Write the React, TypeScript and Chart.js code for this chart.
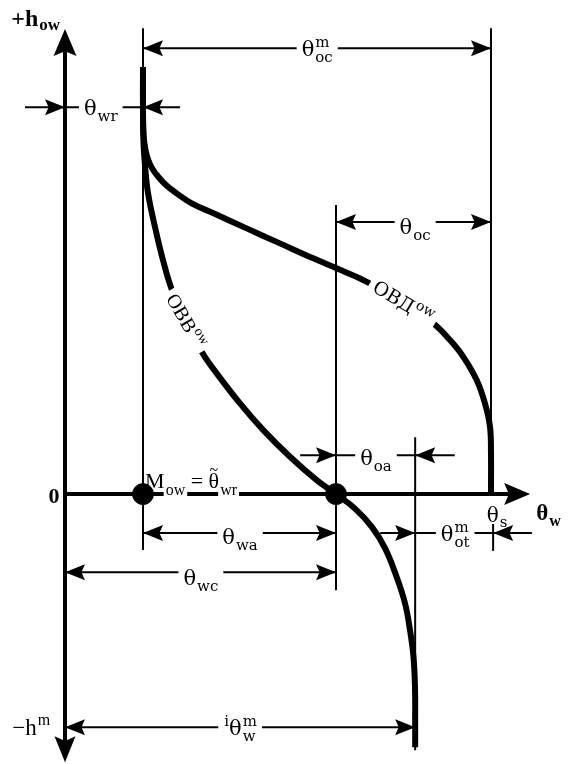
import React, { useEffect, useRef } from "react";
import { Chart, registerables } from "chart.js";

Chart.register(...registerables);

// ---------- scale ranges (θ as % of θs, h as % of h at curve top) ----------
const X_RANGE = [-15.26, 118.08];
const Y_RANGE = [-63.2, 115.7];

// axis extents
const AXIS_H_TOP = 108.9;
const AXIS_H_BOTTOM = -62.8;
const AXIS_THETA_END = 109.2;

// ---------- drying curve ОВД^ow ----------
const dryTheta = [18.31, 18.31, 18.45, 18.9, 19.55, 20.54, 21.9, 23.83, 26.22, 29.74, 34.74, 42.65, 50.47, 58.29, 63.78, 70.02, 78.64, 86.46, 90.38, 93.5, 96.64, 98.59, 99.77, 100, 100];
const dryH = [100, 89.93, 84.07, 80.56, 78.22, 76.11, 74.31, 72.25, 70.42, 68.08, 65.81, 62.22, 58.71, 55.2, 52.86, 50.12, 45.43, 39.98, 36.07, 32.15, 26.7, 21.24, 15.76, 9.53, 0];

// ---------- wetting curve ОВВ^ow ----------
const wetTheta = [18.31, 18.31, 18.43, 18.78, 19.48, 21.13, 23.0, 25.12, 28.4, 32.09, 35.61, 41.08, 46.55, 52.82, 59.08, 63.62, 68.08, 72.07, 75.12, 77.7, 79.81, 80.99, 81.81, 82.16, 82.2, 82.2];
const wetH = [100, 89.93, 82.2, 77.05, 70.49, 62.53, 54.8, 47.78, 40.75, 33.33, 28.27, 21.24, 14.99, 8.74, 3.28, 0, -3.4, -7.73, -12.65, -18.97, -25.53, -31.85, -38.17, -45.2, -53.6, -59.25];

// ---------- marked points (θwr, θwa) ----------
const pointTheta = [18.31, 63.62];
const pointH = [0, 0];

// ---------- thin vertical guide lines ----------
const guideTheta = [18.31, 63.62, 82.2, 100, 100.5];
const guideTop = [109.1, 67.7, 13.3, 109.1, -7.0];
const guideBottom = [-13.1, -22.5, -60.0, 0, -13.3];

// ---------- dimension lines ----------
const dimH = [104.4, 90.6, 63.7, 9.1, -9.1, -9.1, -18.3, -54.6];
const dimStart = [18.31, -9.4, 63.62, 55.2, 18.31, 74.0, 0, 0];
const dimEnd = [100, 27.0, 100, 91.5, 63.62, 109.6, 63.62, 82.2];
const dimTipA = [18.31, 0, 63.62, 63.62, 18.31, 82.2, 0, 0];
const dimTipADir = ["l", "r", "l", "r", "l", "r", "l", "l"];
const dimTipB = [100, 18.31, 100, 82.2, 63.62, 100.5, 63.62, 82.2];
const dimTipBDir = ["r", "l", "r", "l", "r", "l", "r", "r"];
const dimLabelTheta = [59.2, 8.4, 82.2, 73.0, 41.1, 91.6, 31.9, 41.1];

type Part = { t?: string; sub?: string; sup?: string; tilde?: boolean };

const dimLabels: Part[][] = [
  [{ t: "θ", sup: "m", sub: "oc" }],
  [{ t: "θ", sub: "wr" }],
  [{ t: "θ", sub: "oc" }],
  [{ t: "θ", sub: "oa" }],
  [{ t: "θ", sub: "wa" }],
  [{ t: "θ", sup: "m", sub: "ot" }],
  [{ t: "θ", sub: "wc" }],
  [{ sup: "i" }, { t: "θ", sup: "m", sub: "w" }],
];
// baseline drop (px) of each dimension label below its line
const dimLabelDrop = [8, 8, 12, 10, 11, 8, 13, 8];

// ---------- other text ----------
const labelHAxis: Part[] = [{ t: "+h", sub: "ow" }];
const labelZero: Part[] = [{ t: "0" }];
const labelHMin: Part[] = [{ t: "−h", sup: "m" }];
const labelThetaAxis: Part[] = [{ t: "θ", sub: "w" }];
const labelThetaS: Part[] = [{ t: "θ", sub: "s" }];
const labelMow: Part[] = [{ t: "M", sub: "ow" }, { t: " = " }, { t: "θ", sub: "wr", tilde: true }];
const labelWet: Part[] = [{ t: "ОВВ", sup: "ow" }];
const labelDry: Part[] = [{ t: "ОВД", sup: "ow" }];

const SERIF = '"Liberation Serif", "DejaVu Serif", serif';
const MATH = '"DejaVu Serif", "Liberation Serif", serif';

interface RichOpts {
  size: number;
  subSize: number;
  family: string;
  bold?: boolean;
  bg?: boolean;
  subBg?: boolean;
  align?: "left" | "center";
  subDy?: number;
  supDy?: number;
}

function fontStr(size: number, bold: boolean | undefined, family: string) {
  return `${bold ? "bold " : ""}${size}px ${family}`;
}

function drawRich(ctx: CanvasRenderingContext2D, x: number, baseline: number, parts: Part[], o: RichOpts) {
  const ws: [number, number][] = [];
  let w = 0;
  for (const p of parts) {
    ctx.font = fontStr(o.size, o.bold, o.family);
    const bw = p.t ? ctx.measureText(p.t).width : 0;
    ctx.font = fontStr(o.subSize, o.bold, o.family);
    const sw = Math.max(p.sub ? ctx.measureText(p.sub).width : 0, p.sup ? ctx.measureText(p.sup).width : 0);
    ws.push([bw, sw]);
    w += bw + (sw > 0 ? sw + 1 : 0);
  }
  let cx = o.align === "left" ? x : x - w / 2;
  if (o.bg) {
    ctx.fillStyle = "#fff";
    ctx.fillRect(cx - 5, baseline - o.size * 0.9, w + 10, o.size * 1.35);
  }
  ctx.textAlign = "left";
  ctx.textBaseline = "alphabetic";
  const subDy = o.subDy ?? o.size * 0.27;
  const supDy = o.supDy ?? o.size * 0.42;
  parts.forEach((p, i) => {
    const [bw, sw] = ws[i];
    if (p.t) {
      ctx.fillStyle = "#000";
      ctx.font = fontStr(o.size, o.bold, o.family);
      ctx.fillText(p.t, cx, baseline);
      if (p.tilde) {
        ctx.font = fontStr(o.subSize, o.bold, o.family);
        const tw = ctx.measureText("~").width;
        ctx.fillText("~", cx + bw / 2 - tw / 2, baseline - o.size * 0.82 + o.subSize * 0.32);
      }
    }
    cx += bw;
    if (sw > 0) {
      cx += 1;
      ctx.font = fontStr(o.subSize, o.bold, o.family);
      if (p.sub) {
        const sy = baseline + subDy;
        if (o.subBg) {
          ctx.fillStyle = "#fff";
          ctx.fillRect(cx - 2, sy - o.subSize * 0.6, sw + 4, o.subSize * 0.75);
        }
        ctx.fillStyle = "#000";
        ctx.fillText(p.sub, cx, sy);
      }
      if (p.sup) {
        ctx.fillStyle = "#000";
        ctx.fillText(p.sup, cx, baseline - supDy);
      }
      cx += sw;
    }
  });
}

function arrowHead(ctx: CanvasRenderingContext2D, x: number, y: number, dir: string, len: number, wid: number) {
  const [dx, dy] = dir === "r" ? [1, 0] : dir === "l" ? [-1, 0] : dir === "u" ? [0, -1] : [0, 1];
  const bx = x - dx * len;
  const by = y - dy * len;
  const nx = -dy;
  const ny = dx;
  ctx.fillStyle = "#000";
  ctx.beginPath();
  ctx.moveTo(x, y);
  ctx.lineTo(bx + (nx * wid) / 2, by + (ny * wid) / 2);
  ctx.lineTo(x - dx * len * 0.82, y - dy * len * 0.82);
  ctx.lineTo(bx - (nx * wid) / 2, by - (ny * wid) / 2);
  ctx.closePath();
  ctx.fill();
}

const annotations = {
  id: "annotations",
  afterDatasetsDraw(chart: any) {
    const ctx: CanvasRenderingContext2D = chart.ctx;
    const xs = chart.scales.x;
    const ys = chart.scales.y;
    const px = (v: number) => xs.getPixelForValue(v);
    const py = (v: number) => ys.getPixelForValue(v);
    ctx.save();

    // axis arrows
    arrowHead(ctx, px(0), py(AXIS_H_TOP), "u", 27, 23);
    arrowHead(ctx, px(0), py(AXIS_H_BOTTOM), "d", 26, 21);
    arrowHead(ctx, px(AXIS_THETA_END), py(0), "r", 26, 22);

    // dimension arrows + labels
    const mathOpts: RichOpts = { size: 21, subSize: 15, family: MATH, bg: true };
    dimH.forEach((h, i) => {
      arrowHead(ctx, px(dimTipA[i]), py(h), dimTipADir[i], 20, 16);
      arrowHead(ctx, px(dimTipB[i]), py(h), dimTipBDir[i], 20, 16);
      drawRich(ctx, px(dimLabelTheta[i]), py(h) + dimLabelDrop[i], dimLabels[i], mathOpts);
    });

    // axis labels
    drawRich(ctx, px(-12.6), py(109.6), labelHAxis, { size: 24, subSize: 17, family: SERIF, bold: true, align: "left", subDy: 4 });
    drawRich(ctx, px(-2.6), py(0) + 9, labelZero, { size: 22, subSize: 15, family: SERIF, bold: true });
    drawRich(ctx, px(-12.4), py(-56.4), labelHMin, { size: 23, subSize: 16, family: SERIF, align: "left" });
    drawRich(ctx, px(110.6), py(-6.1), labelThetaAxis, { size: 23, subSize: 16, family: SERIF, bold: true, align: "left", subDy: 6 });
    drawRich(ctx, px(99.0), py(-6.6), labelThetaS, { size: 20, subSize: 15, family: MATH, align: "left", subDy: 5 });
    drawRich(ctx, px(18.8), py(1.4), labelMow, { size: 22, subSize: 16, family: SERIF, align: "left", subBg: true, subDy: 7 });

    // curve labels (rotated along the curves)
    ctx.save();
    ctx.translate(px(28.5), py(40.6));
    ctx.rotate((60 * Math.PI) / 180);
    drawRich(ctx, 0, 7, labelWet, { size: 20, subSize: 14, family: SERIF, bg: true });
    ctx.restore();

    ctx.save();
    ctx.translate(px(79.4), py(45.0));
    ctx.rotate((31 * Math.PI) / 180);
    drawRich(ctx, 0, 7, labelDry, { size: 19, subSize: 14, family: MATH, bg: true });
    ctx.restore();

    ctx.restore();
  },
};

function line(data: { x: number; y: number }[], width: number, order: number, tension = 0) {
  return {
    data,
    showLine: true,
    borderColor: "#000",
    backgroundColor: "#000",
    borderWidth: width,
    pointRadius: 0,
    fill: false,
    tension,
    order,
  };
}

export default function App() {
  const ref = useRef<HTMLCanvasElement | null>(null);

  useEffect(() => {
    if (!ref.current) return;
    const datasets: any[] = [];

    datasets.push({
      data: pointTheta.map((t, i) => ({ x: t, y: pointH[i] })),
      showLine: false,
      pointRadius: 10.5,
      pointBackgroundColor: "#000",
      pointBorderColor: "#000",
      order: 0,
    });
    datasets.push(line(dryTheta.map((t, i) => ({ x: t, y: dryH[i] })), 6, 1, 0.4));
    datasets.push(line(wetTheta.map((t, i) => ({ x: t, y: wetH[i] })), 6, 1, 0.4));
    // axes
    datasets.push(line([{ x: 0, y: AXIS_H_BOTTOM + 4 }, { x: 0, y: AXIS_H_TOP - 4 }], 4, 2));
    datasets.push(line([{ x: 0, y: 0 }, { x: AXIS_THETA_END - 4, y: 0 }], 4, 2));
    // guides
    guideTheta.forEach((t, i) => {
      datasets.push(line([{ x: t, y: guideBottom[i] }, { x: t, y: guideTop[i] }], 2, 3));
    });
    // dimension lines
    dimH.forEach((h, i) => {
      datasets.push(line([{ x: dimStart[i], y: h }, { x: dimEnd[i], y: h }], 2, 3));
    });

    const chart = new Chart(ref.current, {
      type: "scatter",
      data: { datasets },
      options: {
        animation: false,
        responsive: false,
        devicePixelRatio: 1,
        layout: { padding: 0, autoPadding: false },
        plugins: { legend: { display: false }, tooltip: { enabled: false } },
        events: [],
        scales: {
          x: { type: "linear", min: X_RANGE[0], max: X_RANGE[1], display: false },
          y: { type: "linear", min: Y_RANGE[0], max: Y_RANGE[1], display: false },
        },
      },
      plugins: [annotations],
    } as any);
    return () => chart.destroy();
  }, []);

  return (
    <div style={{ position: "fixed", left: 0, top: 0, width: 568, height: 764, background: "#fff" }}>
      <canvas ref={ref} width={568} height={764} />
    </div>
  );
}
